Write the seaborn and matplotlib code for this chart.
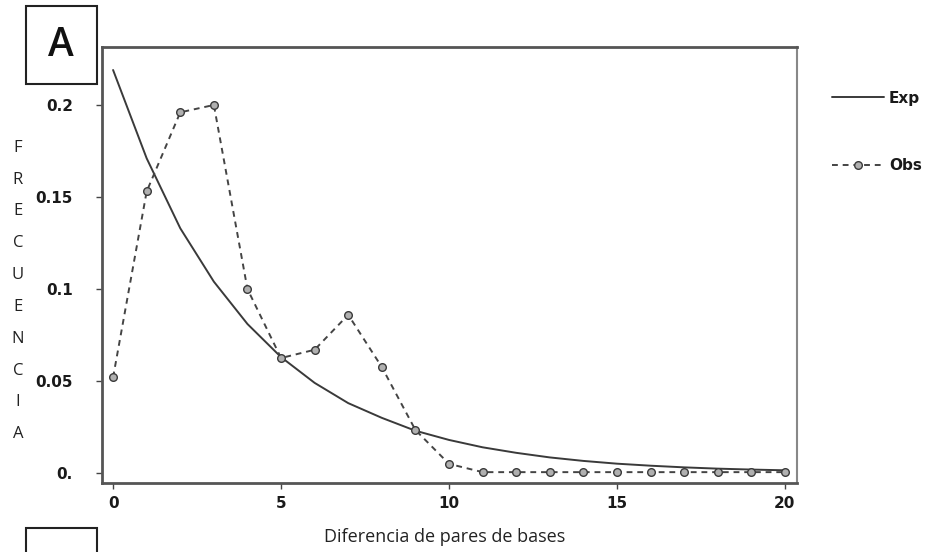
import matplotlib
matplotlib.use("Agg")
import matplotlib.pyplot as plt
import seaborn as sns
import numpy as np
from matplotlib.patches import Rectangle
from matplotlib import font_manager

# ---- data ----
diff = list(range(0, 21))
obs = [0.052, 0.153, 0.196, 0.200, 0.100, 0.0625, 0.067, 0.086, 0.0576, 0.0234,
       0.005, 0.0005, 0.0005, 0.0005, 0.0005, 0.0005, 0.0005, 0.0005, 0.0005, 0.0005, 0.0005]
exp_vals = [0.219, 0.171, 0.133, 0.104, 0.081, 0.063, 0.049, 0.038, 0.030, 0.023,
            0.018, 0.014, 0.011, 0.0085, 0.0066, 0.0051, 0.0040, 0.0031, 0.0024, 0.0019, 0.0015]
xticks = [0, 5, 10, 15, 20]
yticks = [0.0, 0.05, 0.1, 0.15, 0.2]
yticklabels = ["0.", "0.05", "0.1", "0.15", "0.2"]
series_labels = ["Exp", "Obs"]
ylabel = "FRECUENCIA"
xlabel = "Diferencia de pares de bases"
panel = "A"

sns.set_theme(style="white")
plt.rcParams['font.family'] = ['DejaVu Sans']

installed = {f.name for f in font_manager.fontManager.ttflist}
narrow = "Liberation Sans Narrow" if "Liberation Sans Narrow" in installed else "DejaVu Sans"
tick_size = 12 if narrow != "DejaVu Sans" else 11

fig = plt.figure(figsize=(9.35, 5.52), dpi=100)
ax = fig.add_axes([102/935, 1-483/552, 695/935, 436/552])

sns.lineplot(x=diff, y=exp_vals, ax=ax, color="#3a3a3a", linewidth=1.4, label=series_labels[0])
sns.lineplot(x=diff, y=obs, ax=ax, color="#444444", linewidth=1.4, linestyle=(0, (3, 2.5)),
             marker="o", markersize=5.5, markerfacecolor="#b0b0b0", markeredgecolor="#3a3a3a",
             markeredgewidth=1.0, label=series_labels[1])

ax.set_xlim(-0.33, 20.36)
ax.set_ylim(-0.0054, 0.2315)
ax.set_xticks(xticks)
ax.set_xticklabels([str(t) for t in xticks])
ax.set_yticks(yticks)
ax.set_yticklabels(yticklabels)
ax.tick_params(axis="both", direction="out", length=4, width=1, color="#444444",
               labelsize=tick_size, labelcolor="#1a1a1a", bottom=True, left=True)
ax.tick_params(axis="y", pad=17)
ax.tick_params(axis="x", pad=5)
for lab in ax.get_xticklabels() + ax.get_yticklabels():
    lab.set_fontweight("bold")
    lab.set_family([narrow, "DejaVu Sans"])
ax.set_xlabel("")
ax.set_ylabel("")
for side, sp in ax.spines.items():
    sp.set_visible(True)
    sp.set_color("#555555" if side in ("left", "bottom", "top") else "#888888")
    sp.set_linewidth(2.0 if side in ("left", "bottom", "top") else 1.5)

leg = ax.legend(loc="upper left", bbox_to_anchor=(818/935, 1-77/552), bbox_transform=fig.transFigure,
                frameon=False, handlelength=3.4, handletextpad=0.35, labelspacing=3.45,
                prop={"weight": "bold", "size": tick_size, "family": [narrow, "DejaVu Sans"]})
for t in leg.get_texts():
    t.set_color("#1a1a1a")

fig.text(18/935, 1-291/552, "\n".join(ylabel), ha="center", va="center",
         fontsize=12, linespacing=2.32, family=["Open Sans", "DejaVu Sans"], color="#222222")
fig.text(445/935, 1-537/552, xlabel, ha="center", va="center", fontsize=13,
         family=["Open Sans", "DejaVu Sans"], color="#222222")

fig.patches.append(Rectangle((26/935, 1-84/552), 71/935, 78/552, transform=fig.transFigure,
                             fill=False, edgecolor="#222222", linewidth=1.5))
fig.text(61/935, 1-46/552, panel, ha="center", va="center", fontsize=28, fontweight="semibold",
         family=["Open Sans", "DejaVu Sans"], color="#111111")
fig.patches.append(Rectangle((26/935, -0.05), 71/935, 0.05 + 24/552, transform=fig.transFigure,
                             fill=False, edgecolor="#222222", linewidth=1.5))

fig.savefig("out.png", dpi=100)
